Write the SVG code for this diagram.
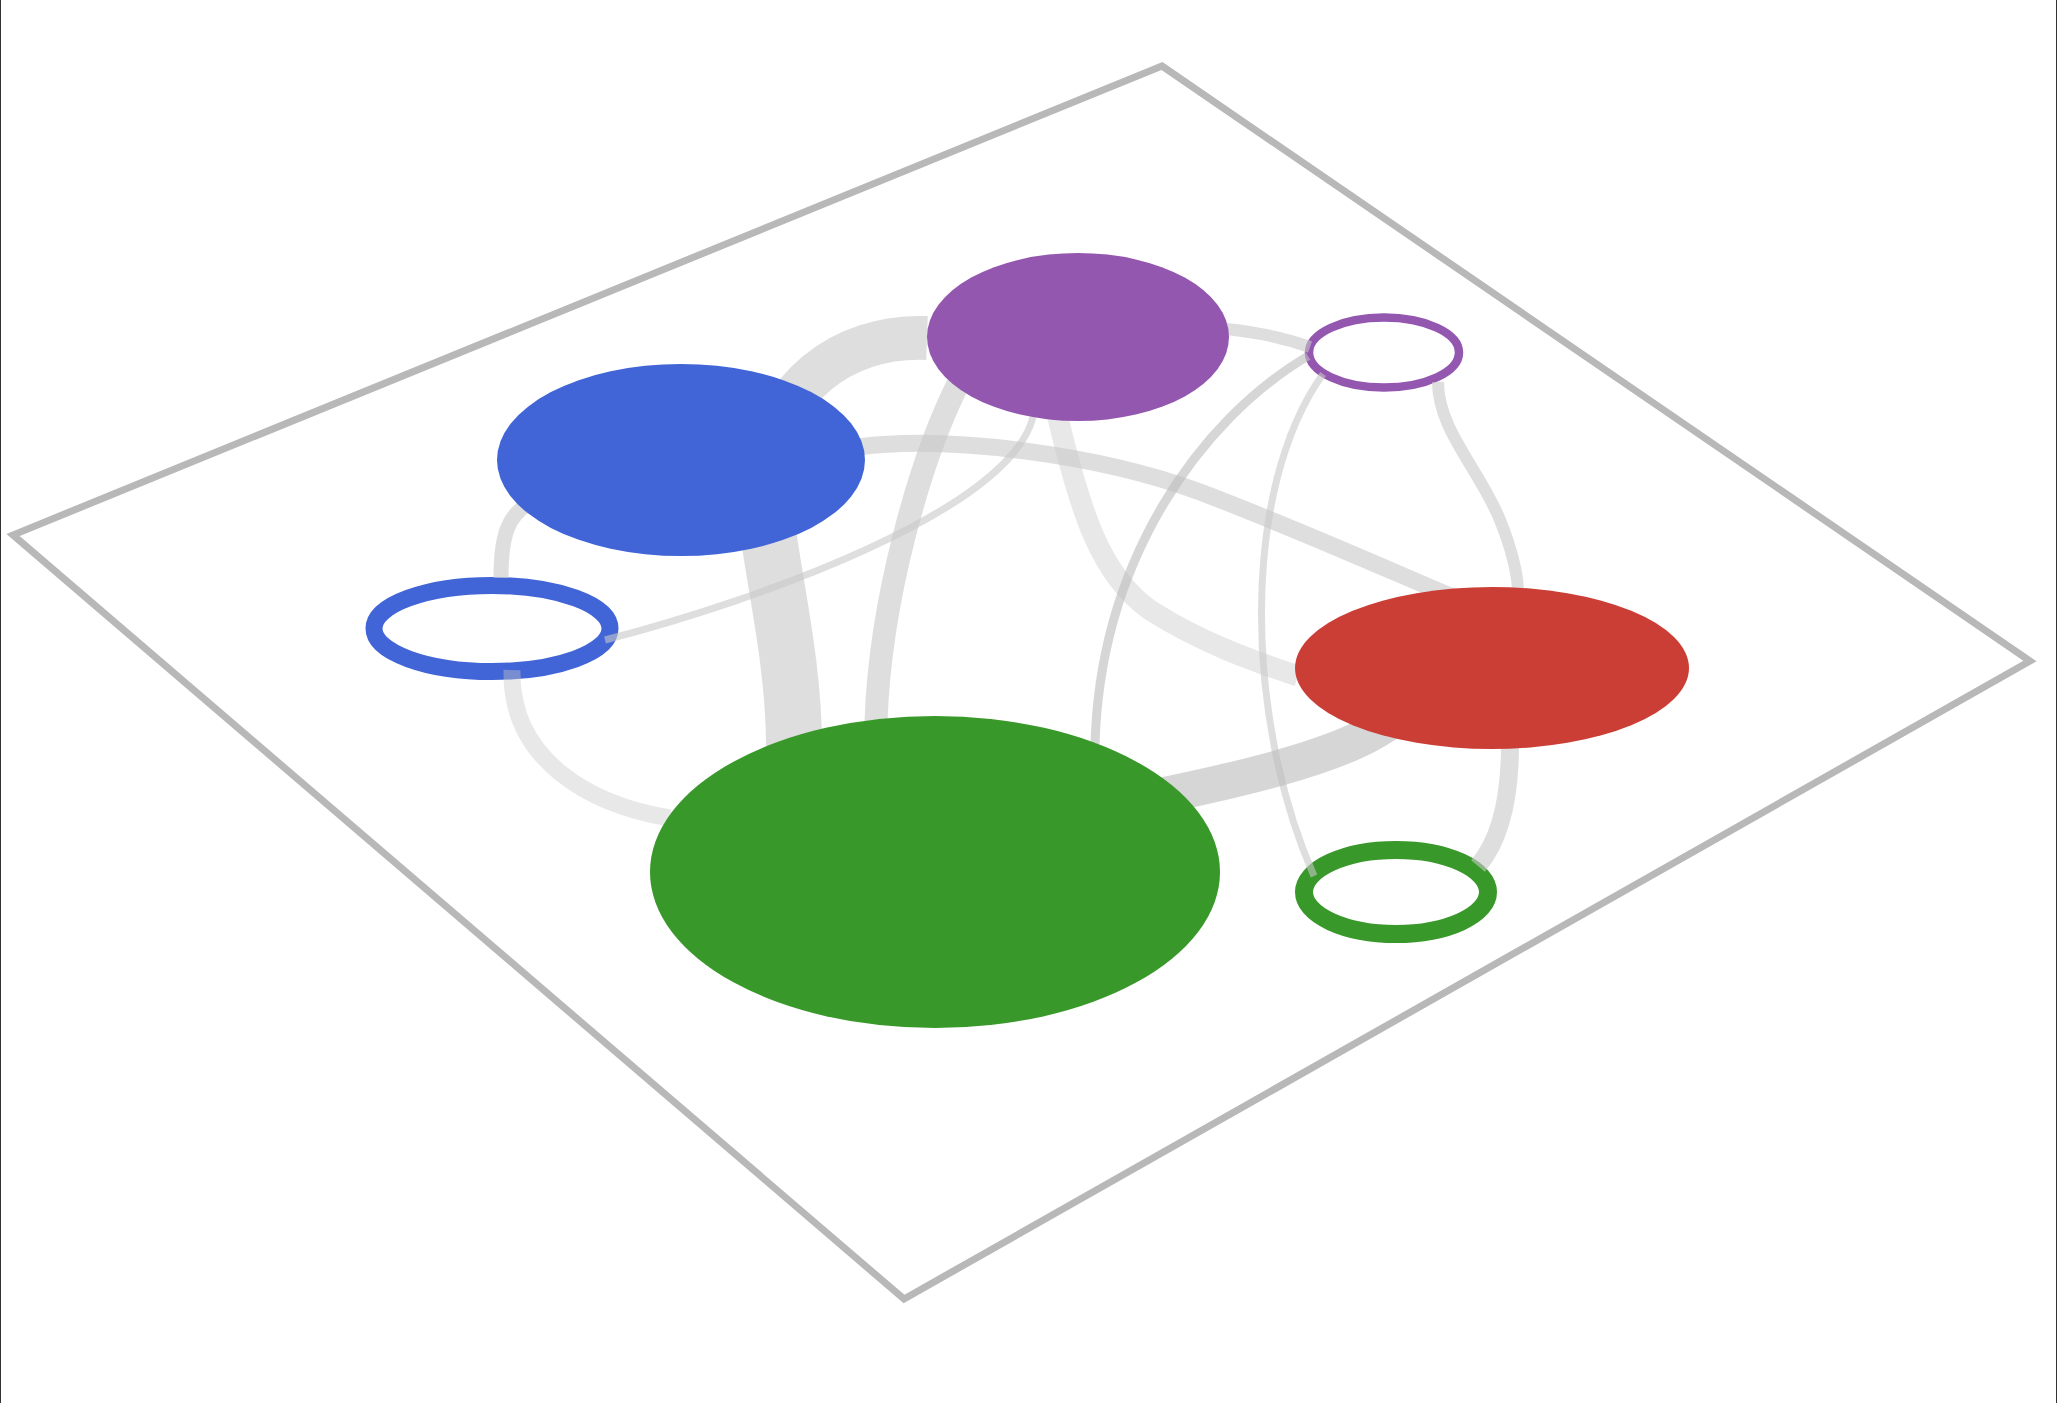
<svg xmlns="http://www.w3.org/2000/svg" width="2057" height="1403" viewBox="0 0 2057 1403">
<style>
.plane{fill:#ffffff;stroke:#b8b8b8;stroke-width:7;stroke-linejoin:miter}
.frame{stroke:#333333;stroke-width:1}
.e{fill:none;stroke:#c8c8c8;stroke-opacity:0.6;stroke-linecap:butt}
.el{fill:none;stroke:#c8c8c8;stroke-opacity:0.42;stroke-linecap:butt}
.ed{fill:none;stroke:#bdbdbd;stroke-opacity:0.62;stroke-linecap:butt}
.ring{fill:none}
</style>
<rect x="0" y="0" width="2057" height="1403" fill="#ffffff"/>
<line class="frame" x1="0.5" y1="0" x2="0.5" y2="1403"/>
<line class="frame" x1="2056.5" y1="0" x2="2056.5" y2="1403"/>
<polygon class="plane" points="1162,66 2030,661 904,1299 13,535"/>

<g id="node-blue-ring"><ellipse class="ring" cx="492" cy="628.5" rx="118" ry="43" stroke="#4164d7" stroke-width="17"/></g>
<g id="node-purple-ring"><ellipse class="ring" cx="1384" cy="352.5" rx="75" ry="35" stroke="#9457b0" stroke-width="8.5"/></g>
<g id="node-green-ring"><ellipse class="ring" cx="1396" cy="892" rx="92" ry="42" stroke="#389829" stroke-width="18"/></g>

<g id="connectors">
<path class="e" stroke-width="44" d="M 927 338 C 840 335 775 390 765 470"/>
<path class="e" stroke-width="56" d="M 765 470 C 758 526 795 640 794 750"/>
<path class="e" stroke-width="15" d="M 530 503 C 508 515 501 535 501 578"/>
<path class="el" stroke-width="17" d="M 512 670 C 510 760 590 805 670 818"/>
<path class="e" stroke-width="7" d="M 605 640 C 760 600 1010 510 1033 417"/>
<path class="e" stroke-width="17" d="M 858 447 C 950 435 1100 455 1200 492 C 1300 530 1400 575 1455 598"/>
<path class="e" stroke-width="23" d="M 958 384 C 920 460 880 600 876 722"/>
<path class="el" stroke-width="21" d="M 1058 418 C 1080 510 1100 575 1150 610 C 1200 642 1250 660 1298 676"/>
<path class="e" stroke-width="12" d="M 1226 329 C 1255 332 1285 338 1310 347"/>
<path class="ed" stroke-width="9" d="M 1308 356 C 1200 420 1100 560 1095 745"/>
<path class="e" stroke-width="7" d="M 1323 374 C 1240 490 1245 720 1314 876"/>
<path class="e" stroke-width="12" d="M 1438 382 C 1438 430 1480 470 1500 520 C 1512 550 1517 570 1518 590"/>
<path class="e" stroke-width="18" d="M 1510 745 C 1510 800 1500 840 1478 866"/>
<path class="ed" stroke-width="36" d="M 1140 800 C 1240 780 1330 758 1375 731 C 1395 719 1410 710 1425 700"/>
</g>

<g id="node-blue"><ellipse cx="681" cy="460" rx="184" ry="96" fill="#4164d7"/></g>
<g id="node-purple"><ellipse cx="1078" cy="337" rx="151" ry="84" fill="#9457b0"/></g>
<g id="node-red"><ellipse cx="1492" cy="668" rx="197" ry="81" fill="#cb3e35"/></g>
<g id="node-green"><ellipse cx="935" cy="872" rx="285" ry="156" fill="#389829"/></g>
</svg>
